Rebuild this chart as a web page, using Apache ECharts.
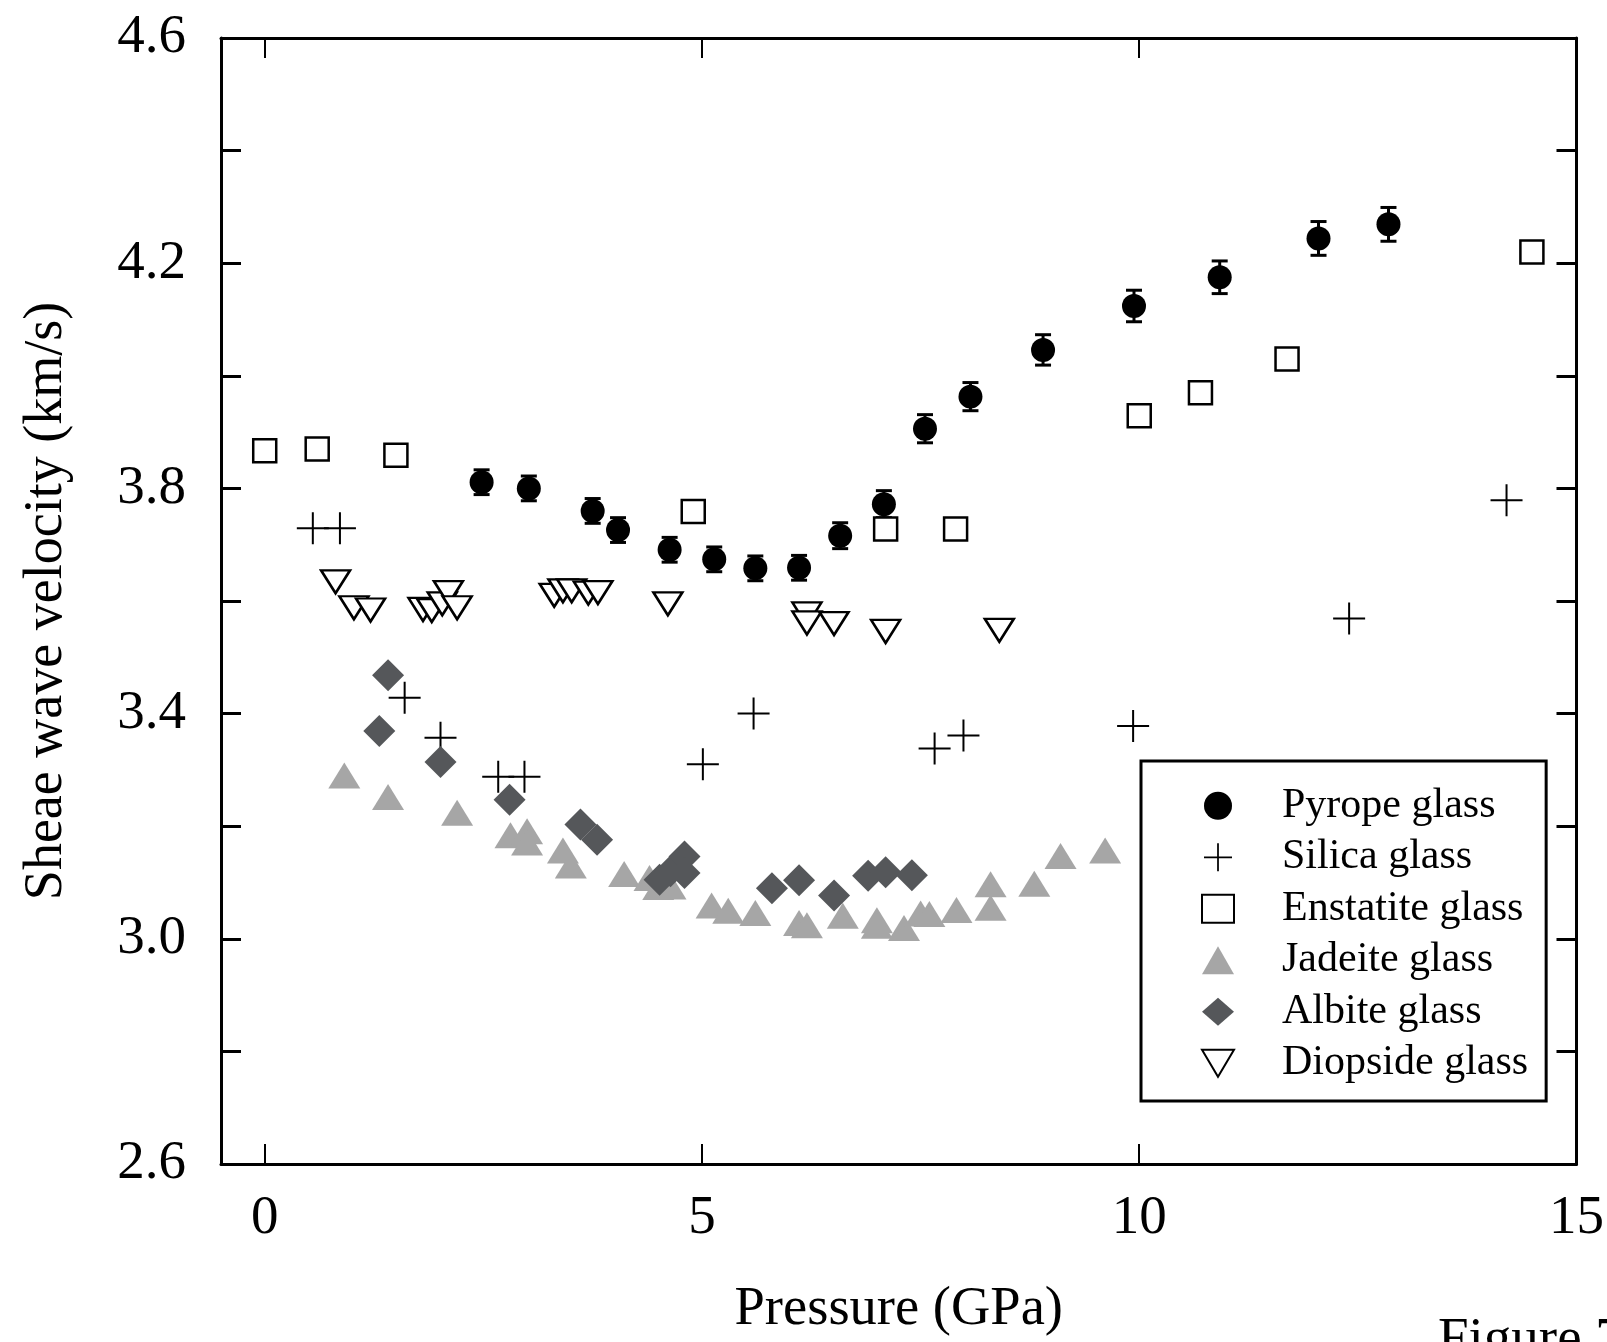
<!DOCTYPE html>
<html>
<head>
<meta charset="utf-8">
<script src="https://cdn.jsdelivr.net/npm/echarts@6/dist/echarts.min.js"></script>
<style>
html,body{margin:0;padding:0;background:#fff;}
#chart{width:1607px;height:1342px;}
</style>
</head>
<body>
<div id="chart"></div>
<script>
// ---------- data (Pressure in GPa, shear wave velocity in km/s) ----------
const pyropeP   = [2.48, 3.02, 3.75, 4.04, 4.63, 5.14, 5.61, 6.11, 6.58, 7.08, 7.55, 8.07, 8.90, 9.94, 10.92, 12.05, 12.85];
const pyropeV   = [3.811, 3.800, 3.760, 3.726, 3.691, 3.674, 3.658, 3.659, 3.716, 3.772, 3.906, 3.963, 4.046, 4.124, 4.175, 4.244, 4.269];
const pyropeErr = [0.022, 0.022, 0.022, 0.022, 0.022, 0.022, 0.022, 0.022, 0.023, 0.024, 0.025, 0.025, 0.027, 0.028, 0.029, 0.030, 0.030];

const silicaP = [0.55, 0.86, 1.60, 2.01, 2.67, 2.97, 5.01, 5.59, 7.66, 7.99, 9.93, 12.40, 14.20];
const silicaV = [3.729, 3.729, 3.428, 3.357, 3.288, 3.288, 3.310, 3.400, 3.338, 3.361, 3.378, 3.569, 3.779];

const enstatiteP = [0.00, 0.60, 1.50, 4.90, 7.10, 7.90, 10.00, 10.70, 11.69, 14.49];
const enstatiteV = [3.867, 3.870, 3.859, 3.759, 3.728, 3.728, 3.929, 3.970, 4.030, 4.220];

const jadeiteP = [0.91, 1.41, 2.20, 2.81, 3.00, 3.00, 3.41, 3.50, 4.11, 4.40, 4.50, 4.64, 5.11, 5.30, 5.61, 6.11, 6.20, 6.61, 7.00, 7.00, 7.31, 7.50, 7.60, 7.91, 8.30, 8.30, 8.80, 9.10, 9.61];
const jadeiteV = [3.290, 3.252, 3.224, 3.184, 3.191, 3.171, 3.157, 3.130, 3.115, 3.108, 3.092, 3.093, 3.059, 3.050, 3.046, 3.028, 3.024, 3.041, 3.033, 3.023, 3.019, 3.045, 3.044, 3.051, 3.097, 3.055, 3.098, 3.147, 3.157];

const albiteP = [1.41, 1.31, 2.01, 2.80, 3.61, 3.80, 4.515, 4.64, 4.80, 4.80, 5.80, 6.11, 6.51, 6.90, 7.10, 7.40];
const albiteV = [3.468, 3.369, 3.314, 3.247, 3.203, 3.176, 3.105, 3.120, 3.146, 3.117, 3.090, 3.104, 3.077, 3.112, 3.118, 3.113];

const diopsideP = [0.81, 1.02, 1.21, 1.81, 1.91, 2.03, 2.10, 2.20, 3.31, 3.41, 3.51, 3.70, 3.81, 4.61, 6.20, 6.20, 6.51, 7.10, 8.40];
const diopsideV = [3.634, 3.588, 3.584, 3.585, 3.583, 3.595, 3.615, 3.588, 3.610, 3.618, 3.618, 3.614, 3.615, 3.595, 3.577, 3.561, 3.560, 3.546, 3.548];

const seriesNames = ['Pyrope glass', 'Silica glass', 'Enstatite glass', 'Jadeite glass', 'Albite glass', 'Diopside glass'];
const xTickLabels = ['0', '5', '10', '15'];
const yTickLabels = ['2.6', '3.0', '3.4', '3.8', '4.2', '4.6'];
const yTickValues = ['2.6', '2.8', '3.0', '3.2', '3.4', '3.6', '3.8', '4.0', '4.2', '4.4', '4.6'];
const xAxisTitle = 'Pressure (GPa)';
const yAxisTitle = 'Sheae wave velocity (km/s)';
const figureLabel = 'Figure 7';

// ---------- build ----------
const zip = (a, b) => a.map((v, i) => [v, b[i]]);
const FONT = "'Liberation Serif', 'Times New Roman', serif";
const PLUS = 'path://M15,0H17V15H32V17H17V32H15V17H0V15H15Z';
const DOWN_TRI = 'path://M0,0L32,0L16,27Z';

const chart = echarts.init(document.getElementById('chart'), null, {renderer: 'canvas'});

const xCustom = xTickLabels.map(Number);
const yLabelCustom = yTickLabels.map(Number);
const yTickCustom = yTickValues.map(Number);

const axisLineStyle = {color: '#000', width: 3};

const option = {
  backgroundColor: '#fff',
  animation: false,
  grid: {left: 221, right: 30, top: 38, bottom: 176, containLabel: false},
  xAxis: [
    {
      type: 'value', position: 'bottom', min: -0.5, max: 15,
      axisLine: {show: true, onZero: false, lineStyle: axisLineStyle},
      axisTick: {show: true, inside: true, length: 20, customValues: xCustom, lineStyle: {color: '#000', width: 2}},
      axisLabel: {show: true, customValues: xCustom, margin: 27, color: '#000', fontFamily: FONT, fontSize: 55,
                  formatter: v => String(Math.round(v))},
      splitLine: {show: false},
      name: xAxisTitle, nameLocation: 'middle', nameGap: 118,
      nameTextStyle: {color: '#000', fontFamily: FONT, fontSize: 54.5}
    },
    {
      type: 'value', position: 'top', min: -0.5, max: 15,
      axisLine: {show: true, onZero: false, lineStyle: axisLineStyle},
      axisTick: {show: true, inside: true, length: 20, customValues: xCustom, lineStyle: {color: '#000', width: 2}},
      axisLabel: {show: false},
      splitLine: {show: false}
    }
  ],
  yAxis: [
    {
      type: 'value', position: 'left', min: 2.6, max: 4.6, interval: 0.2,
      axisLine: {show: true, onZero: false, lineStyle: axisLineStyle},
      axisTick: {show: true, inside: true, length: 20, customValues: yTickCustom, lineStyle: {color: '#000', width: 3}},
      axisLabel: {show: true, customValues: yLabelCustom, margin: 35, color: '#000', fontFamily: FONT, fontSize: 55,
                  formatter: v => v.toFixed(1)},
      splitLine: {show: false},
      name: yAxisTitle, nameLocation: 'middle', nameGap: 147, nameRotate: 90,
      nameTextStyle: {color: '#000', fontFamily: FONT, fontSize: 54}
    },
    {
      type: 'value', position: 'right', min: 2.6, max: 4.6, interval: 0.2,
      axisLine: {show: true, onZero: false, lineStyle: axisLineStyle},
      axisTick: {show: true, inside: true, length: 20, customValues: yTickCustom, lineStyle: {color: '#000', width: 3}},
      axisLabel: {show: false},
      splitLine: {show: false}
    }
  ],
  legend: {
    show: true,
    orient: 'vertical',
    left: 1141, top: 761,
    padding: [19, 18, 12, 60],
    itemGap: 0,
    itemWidth: 32, itemHeight: 28,
    borderColor: '#000', borderWidth: 3, backgroundColor: '#fff',
    selectedMode: false,
    textStyle: {color: '#000', fontFamily: FONT, fontSize: 42, lineHeight: 43.5, padding: [8, 0, 0, 43]},
    data: seriesNames
  },
  graphic: [
    {type: 'text', left: 1438, top: 1313, silent: true,
     style: {text: figureLabel, font: '55px ' + FONT, fill: '#000'}}
  ],
  series: [
    {
      name: 'Pyrope error', type: 'custom', coordinateSystem: 'cartesian2d', silent: true, z: 2,
      encode: {x: 0, y: 1},
      data: pyropeP.map((p, i) => [p, pyropeV[i], pyropeErr[i]]),
      renderItem: function (params, api) {
        const x = api.value(0), y = api.value(1), e = api.value(2);
        const t = api.coord([x, y + e]);
        const b = api.coord([x, y - e]);
        const hw = 8;
        const st = {stroke: '#000', lineWidth: 3};
        return {type: 'group', children: [
          {type: 'line', shape: {x1: t[0], y1: t[1], x2: b[0], y2: b[1]}, style: st},
          {type: 'line', shape: {x1: t[0] - hw, y1: t[1], x2: t[0] + hw, y2: t[1]}, style: st},
          {type: 'line', shape: {x1: b[0] - hw, y1: b[1], x2: b[0] + hw, y2: b[1]}, style: st}
        ]};
      }
    },
    {
      name: seriesNames[0], type: 'scatter', z: 3,
      symbol: 'circle', symbolSize: 24,
      itemStyle: {color: '#000', opacity: 1},
      data: zip(pyropeP, pyropeV)
    },
    {
      name: seriesNames[1], type: 'scatter', z: 3,
      symbol: PLUS, symbolSize: 32,
      itemStyle: {color: '#000', opacity: 1},
      data: zip(silicaP, silicaV)
    },
    {
      name: seriesNames[2], type: 'scatter', z: 3,
      symbol: 'rect', symbolSize: 23,
      itemStyle: {color: '#fff', borderColor: '#000', borderWidth: 2.5, opacity: 1},
      data: zip(enstatiteP, enstatiteV)
    },
    {
      name: seriesNames[3], type: 'scatter', z: 3,
      symbol: 'triangle', symbolSize: [32, 26],
      itemStyle: {color: '#a6a6a6', opacity: 1},
      data: zip(jadeiteP, jadeiteV)
    },
    {
      name: seriesNames[4], type: 'scatter', z: 3,
      symbol: 'diamond', symbolSize: 32,
      itemStyle: {color: '#55575a', opacity: 1},
      data: zip(albiteP, albiteV)
    },
    {
      name: seriesNames[5], type: 'scatter', z: 3,
      symbol: DOWN_TRI, symbolSize: [29, 23],
      itemStyle: {color: '#fff', borderColor: '#000', borderWidth: 2.5, opacity: 1},
      data: zip(diopsideP, diopsideV)
    }
  ]
};
chart.setOption(option);
</script>
</body>
</html>
